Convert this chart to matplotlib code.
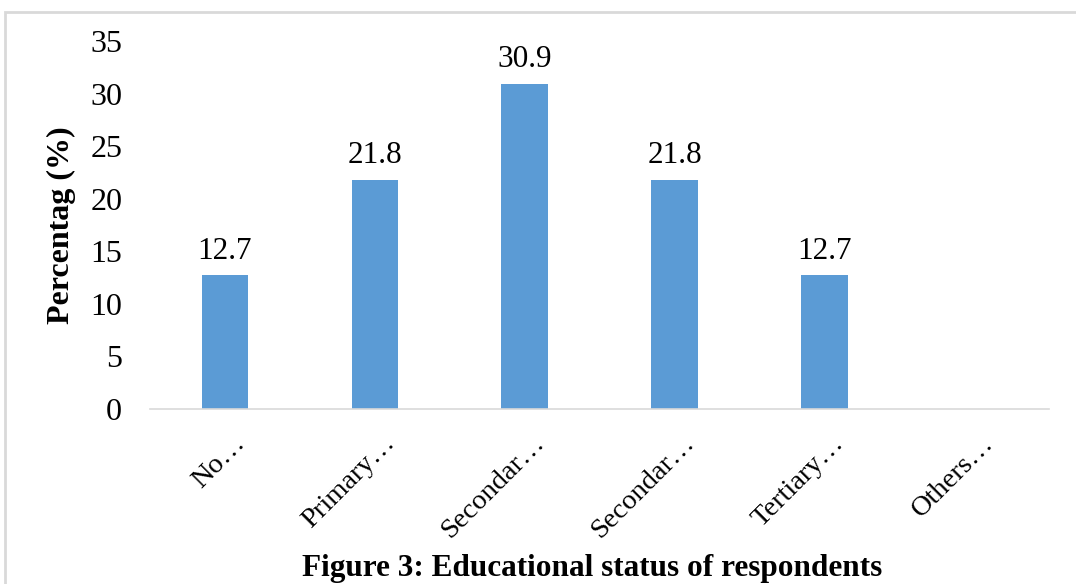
import matplotlib.pyplot as plt
import matplotlib.transforms as mtransforms
from matplotlib.patches import Rectangle

# Educational status of respondents
categories = ['No…', 'Primary…', 'Secondar…', 'Secondar…', 'Tertiary…', 'Others…']
values = [12.7, 21.8, 30.9, 21.8, 12.7, 0]
value_labels = ['12.7', '21.8', '30.9', '21.8', '12.7', '']

plt.rcParams['font.family'] = ['Liberation Serif', 'DejaVu Serif']

fig = plt.figure(figsize=(10.76, 5.84), dpi=100)
ax = fig.add_axes([0.1394, 0.2997, 0.8356, 0.6301])

x = range(len(categories))
bars = ax.bar(x, values, width=0.31, color='#5B9BD5', zorder=2)

for b, lab in zip(bars, value_labels):
    if lab:
        ax.annotate(lab, (b.get_x() + b.get_width() / 2, b.get_height()),
                    xytext=(0, 7), textcoords='offset points',
                    ha='center', va='bottom', fontsize=22.5)

ax.set_xlim(-0.5, len(categories) - 0.5)
ax.set_ylim(0, 35)
ax.set_yticks(range(0, 36, 5))
ax.set_xticks(list(x))
ax.set_xticklabels(categories, rotation=45, ha='right', va='center',
                   rotation_mode='anchor', fontsize=20.5)
ax.tick_params(axis='y', length=0, pad=20, labelsize=23)
ax.tick_params(axis='x', length=0, pad=22)

# move the slanted labels a little right, as in the original
shift = mtransforms.ScaledTranslation(16 / 100, 0, fig.dpi_scale_trans)
for t in ax.get_xticklabels():
    t.set_transform(t.get_transform() + shift)

for s in ['top', 'right', 'left']:
    ax.spines[s].set_visible(False)
ax.spines['bottom'].set_color('#D9D9D9')
ax.spines['bottom'].set_linewidth(1.2)

ax.set_ylabel('Percentag (%)', fontsize=23, fontweight='bold', labelpad=10)

fig.text(0.55, 0.027, 'Figure 3: Educational status of respondents',
         ha='center', va='center', fontsize=22.5, fontweight='bold')

# light frame round the chart
fig.patches.append(Rectangle((0.005, -0.01), 1.0, 0.99, transform=fig.transFigure,
                             fill=False, edgecolor='#D9D9D9', linewidth=2))

fig.savefig('out.png', dpi=100)
